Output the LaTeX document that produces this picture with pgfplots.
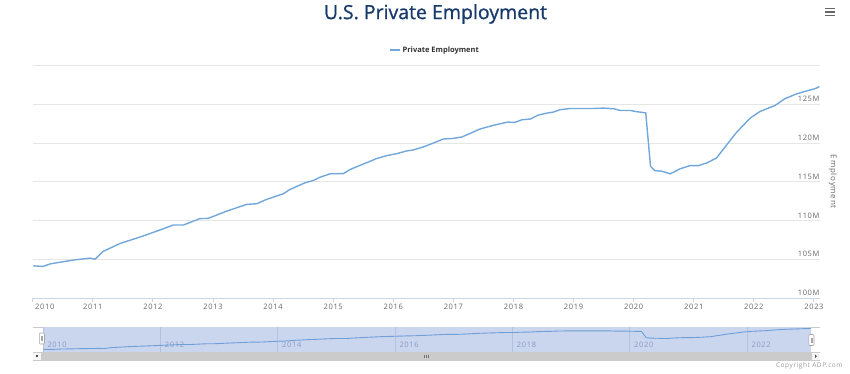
\documentclass[border=0pt]{standalone}
\usepackage{fontspec}
\setmainfont{Open Sans}
\newfontfamily\titlefont[FakeBold=0.9]{Open Sans}
\newfontfamily\tickfont[LetterSpace=9]{Open Sans}
\usepackage{pgfplots}
\usepackage{pgfplotstable}
\pgfplotsset{compat=1.18}
\definecolor{linecol}{HTML}{72A7DC}
\definecolor{navline}{HTML}{6F9FD8}
\definecolor{gridgray}{HTML}{E6E6E6}
\definecolor{axisgray}{HTML}{CCD6EB}
\definecolor{labelgray}{HTML}{666666}
\definecolor{titlecol}{HTML}{173A6B}
\definecolor{navfill}{HTML}{CAD5EE}
\definecolor{navgrid}{HTML}{B4C2E2}
\definecolor{navlabel}{HTML}{8A9BC8}
\definecolor{scrollgray}{HTML}{CBCBCB}

\pgfplotstableread{
year value
2010.01 104.18
2010.17 104.10
2010.30 104.45
2010.50 104.70
2010.70 104.95
2010.95 105.17
2011.04 105.05
2011.17 106.03
2011.45 107.05
2011.84 108.03
2012.10 108.75
2012.34 109.44
2012.51 109.44
2012.78 110.26
2012.92 110.29
2013.23 111.23
2013.56 112.09
2013.73 112.18
2013.89 112.73
2014.17 113.46
2014.28 114.01
2014.53 114.87
2014.67 115.17
2014.78 115.59
2014.95 116.03
2015.17 116.06
2015.28 116.58
2015.45 117.13
2015.56 117.47
2015.72 117.99
2015.89 118.37
2016.06 118.63
2016.22 118.97
2016.33 119.10
2016.50 119.49
2016.67 120.00
2016.83 120.51
2017.00 120.59
2017.14 120.77
2017.28 121.23
2017.44 121.79
2017.66 122.26
2017.83 122.56
2017.91 122.69
2018.02 122.64
2018.14 122.99
2018.28 123.08
2018.41 123.59
2018.58 123.88
2018.66 123.97
2018.77 124.27
2018.94 124.44
2019.11 124.44
2019.33 124.44
2019.50 124.49
2019.67 124.40
2019.78 124.18
2019.95 124.18
2020.03 124.05
2020.20 123.88
2020.28 117.00
2020.35 116.45
2020.47 116.36
2020.61 116.03
2020.77 116.67
2020.94 117.09
2021.08 117.09
2021.22 117.44
2021.38 118.08
2021.55 119.78
2021.71 121.36
2021.94 123.21
2022.10 124.05
2022.35 124.82
2022.52 125.72
2022.71 126.32
2022.88 126.71
2023.02 127.00
2023.09 127.26
}\datatable

\begin{document}
\begin{tikzpicture}
\path[use as bounding box] (0bp,0bp) rectangle (850bp,-374bp);

% title
\node[font=\titlefont\fontsize{19.5bp}{22bp}\selectfont, text=titlecol] at (435.5bp,-14bp) {U.S. Private Employment};
% menu icon
\foreach \yy in {8.5,12,15.5}
  \draw[labelgray, line width=1.3bp] (825bp,-\yy bp) -- (835bp,-\yy bp);

% main chart
\begin{axis}[
  at={(32.7bp,-298.3bp)}, anchor=south west,
  scale only axis, width=787.3bp, height=233bp,
  xmin=2010, xmax=2023.1, ymin=100, ymax=130,
  axis x line*=bottom, axis y line*=right,
  x axis line style={-, draw=axisgray, line width=0.9bp},
  y axis line style={draw=none},
  xtick={2011,...,2023},
  extra x ticks={2010},
  extra x tick style={xticklabel style={anchor=north west, xshift=-1bp}},
  ytick={100,105,...,125},
  extra y ticks={130}, extra y tick labels={},
  extra y tick style={grid=major},
  ymajorgrids,
  major grid style={draw=gridgray, line width=0.9bp},
  ytick style={draw=none},
  xtick style={draw=axisgray, line width=0.9bp},
  major tick length=4bp,
  tick align=outside,
  /pgf/number format/1000 sep={},
  /pgf/number format/assume math mode=true,
  xticklabel style={font=\tickfont\fontsize{7.5bp}{9bp}\selectfont, text=labelgray, yshift=1.5bp},
  yticklabel={\pgfmathprintnumber{\tick}M},
  yticklabel style={font=\tickfont\fontsize{7.5bp}{9bp}\selectfont, text=labelgray, anchor=south east, xshift=-1bp, yshift=-1bp},
  ylabel={Employment},
  every axis y label/.style={at={(axis description cs:1.0165,0.5)}, rotate=-90, anchor=center, font=\tickfont\fontsize{8bp}{9bp}\selectfont, text=labelgray},
  legend style={at={(0.511,1.066)}, anchor=center, draw=none, fill=none,
    font=\bfseries\fontsize{7.5bp}{9bp}\selectfont, text=black!80, inner sep=1bp},
  legend image code/.code={\draw[#1] (0bp,0bp) -- (10bp,0bp);},
]
\addplot[linecol, line width=1.4bp] table[x=year, y=value] {\datatable};
\addlegendentry{Private Employment}
\end{axis}

% navigator outline
\draw[scrollgray, line width=0.7bp] (32.7bp,-327.3bp) -- (820bp,-327.3bp);

% navigator
\begin{axis}[
  at={(43bp,-352bp)}, anchor=south west,
  scale only axis, width=768bp, height=24.7bp,
  xmin=2010, xmax=2023.09, ymin=101.2, ymax=128.4,
  axis background/.style={fill=navfill},
  hide y axis,
  axis x line*=bottom,
  x axis line style={draw=none},
  xtick={2010,2012,...,2022},
  xmajorgrids,
  major grid style={draw=navgrid, line width=0.7bp},
  major tick length=0pt,
  /pgf/number format/1000 sep={},
  /pgf/number format/assume math mode=true,
  xticklabel style={font=\tickfont\fontsize{7.5bp}{8bp}\selectfont, text=navlabel, anchor=south west, xshift=1bp, yshift=1bp},
]
\addplot[navline, line width=0.9bp] table[x=year, y=value] {\datatable};
\end{axis}

% handles
\draw[fill=white, draw=gray!70, rounded corners=1bp, line width=0.6bp] (39.3bp,-333bp) rectangle (44.5bp,-344bp);
\draw[gray!70, line width=0.5bp] (41.3bp,-336bp) -- (41.3bp,-341bp) (42.5bp,-336bp) -- (42.5bp,-341bp);
\draw[fill=white, draw=gray!70, rounded corners=1bp, line width=0.6bp] (808.8bp,-334.5bp) rectangle (814bp,-345.5bp);
\draw[gray!70, line width=0.5bp] (810.8bp,-337.5bp) -- (810.8bp,-342.5bp) (812bp,-337.5bp) -- (812bp,-342.5bp);

% scrollbar
\fill[scrollgray] (32.7bp,-352bp) rectangle (820bp,-360.5bp);
\fill[white!92!gray] (33.2bp,-352.5bp) rectangle (40.5bp,-360bp);
\fill[black!70] (36.1bp,-355.4bp) rectangle (37.6bp,-357.1bp);
\fill[white!92!gray] (812.2bp,-352.5bp) rectangle (819.5bp,-360bp);
\fill[black!70] (815bp,-354.5bp) -- (817bp,-356.25bp) -- (815bp,-358bp) -- cycle;
\foreach \xx in {424,426,428}
  \draw[black!55, line width=0.5bp] (\xx bp,-354.5bp) -- (\xx bp,-358bp);

% copyright
\node[anchor=east, font=\tickfont\fontsize{6.5bp}{7bp}\selectfont, text=gray!80] at (846bp,-366bp) {Copyright ADP.com};
\end{tikzpicture}
\end{document}
